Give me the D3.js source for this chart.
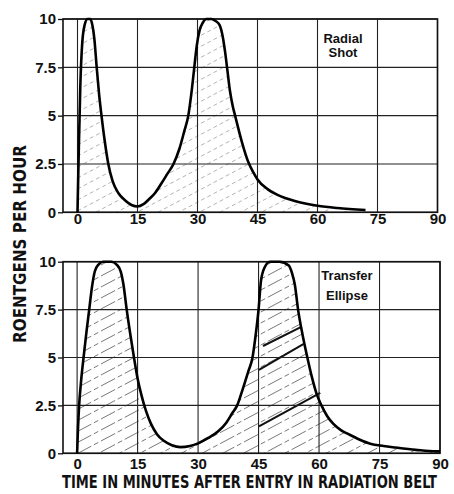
<!DOCTYPE html>
<html>
<head>
<meta charset="utf-8">
<script src="https://cdn.jsdelivr.net/npm/d3@7"></script>
<style>
  html, body { margin: 0; padding: 0; background: #fff; }
  svg { display: block; }
</style>
</head>
<body>
<svg id="chart" width="454" height="494"></svg>
<script>
// ---- data (minutes, roentgens per hour) ----
const xTicks = [0, 15, 30, 45, 60, 75, 90];
const yTicks = [0, 2.5, 5, 7.5, 10];
const yTickLabels = ["0", "2.5", "5", "7.5", "10"];

const radialTime = [0, 0.3, 0.7, 1.2, 1.8, 2.5, 3.2, 3.7, 4.2, 4.8, 5.4, 6, 6.8, 7.7, 8.8, 10.2, 12, 13.5, 15, 16.5, 18, 19.4, 21, 22.5, 24, 25.5, 26.7, 27.7, 28.5, 29.2, 29.8, 30.5, 31.3, 32.2, 33.5, 34.5, 35.5, 36.3, 36.9, 37.5, 38.1, 38.8, 39.4, 40.5, 41.5, 42.7, 44, 45, 47.5, 50, 55, 60, 65, 72];
const radialDose = [0, 3, 6.5, 8.8, 9.7, 10, 10, 9.7, 9, 7.5, 6.1, 5, 3.7, 2.5, 1.6, 1.0, 0.6, 0.38, 0.3, 0.42, 0.7, 1.0, 1.5, 2.0, 2.5, 3.3, 4.2, 5, 6.2, 7.5, 8.6, 9.4, 9.8, 10, 10, 9.9, 9.7, 9.1, 8.3, 7.3, 6.3, 5.5, 5.0, 4.1, 3.35, 2.6, 2.05, 1.7, 1.2, 0.9, 0.55, 0.34, 0.22, 0.12];

const transferTime = [0, 0.2, 0.5, 1.0, 1.6, 2.3, 3, 3.7, 4.4, 5.3, 6.5, 8.5, 9.8, 10.8, 11.5, 12.3, 13.2, 14.1, 15, 16, 17.1, 18.3, 19.8, 21.5, 23.5, 25.6, 28, 30, 32.5, 35, 37, 38.5, 39.7, 41, 42.5, 43.5, 44.3, 45, 45.6, 46.5, 47.8, 50.2, 52.5, 53.3, 54, 54.8, 55.9, 57.1, 58.2, 59.4, 60.6, 62, 63.5, 65.5, 67.3, 70, 72.7, 76, 79, 84, 89, 90];
const transferDose = [0, 1.2, 2.5, 3.8, 5, 6.3, 7.5, 8.7, 9.5, 9.85, 10, 10, 9.85, 9.5, 8.8, 7.5, 6.2, 5, 3.9, 3.0, 2.2, 1.55, 1.0, 0.65, 0.42, 0.32, 0.38, 0.52, 0.8, 1.15, 1.6, 2.1, 2.5, 3.3, 4.3, 5, 6.2, 7.5, 9, 9.7, 10, 10, 9.8, 9.4, 8.8, 7.5, 6.2, 5, 4.0, 3.1, 2.5, 1.95, 1.55, 1.2, 1.0, 0.72, 0.5, 0.38, 0.3, 0.18, 0.1, 0.1];

// heavier hatch strokes seen in the lower panel: [t1, v1, t2, v2]
const transferBoldHatch = [[46.1, 5.6, 55.6, 6.6], [45.1, 4.35, 56.1, 5.7], [45.1, 1.4, 60.3, 3.15]];

const panelLabels = [["Radial", "Shot"], ["Transfer", "Ellipse"]];
const xTitle = "TIME IN MINUTES AFTER ENTRY IN RADIATION BELT";
const yTitle = "ROENTGENS PER HOUR";

// ---- drawing ----
const svg = d3.select("#chart");
const defs = svg.append("defs");

const panels = [
  { time: radialTime, dose: radialDose, xDomain: [-3.625, 90], xRange: [63, 437.5], yRange: [212.3, 19],
    hatchColor: "#a0a0a0", hatchDash: "4,3", hatchWidth: 0.8,
    labelX: 343, labelY: [43, 57], tickLabelY: 219, bold: [] },
  { time: transferTime, dose: transferDose, xDomain: [-3.5, 90], xRange: [63, 440], yRange: [453.3, 261.7],
    hatchColor: "#555", hatchDash: "16,3,5,3", hatchWidth: 0.8,
    labelX: 347, labelY: [280, 300], tickLabelY: 464, bold: transferBoldHatch }
];

const slope = Math.tan(28 * Math.PI / 180);

panels.forEach((p, i) => {
  const x = d3.scaleLinear().domain(p.xDomain).range(p.xRange);
  const y = d3.scaleLinear().domain([0, 10]).range(p.yRange);
  const g = svg.append("g");
  const pts = p.time.map((t, k) => [t, p.dose[k]]);

  // clip = area under curve
  const area = d3.area().x(d => x(d[0])).y0(y(0)).y1(d => y(d[1])).curve(d3.curveMonotoneX);
  defs.append("clipPath").attr("id", "clip" + i).append("path").datum(pts).attr("d", area);

  // hatch lines (decorative), clipped to the area
  const x0 = x(0), x1 = x(90), ySpan = (x1 - x0) * slope;
  const offsets = d3.range(y(10) - 6, y(0) + ySpan + 11, 11);
  g.append("g").attr("clip-path", `url(#clip${i})`)
    .selectAll("line").data(offsets).join("line")
    .attr("x1", x0).attr("y1", d => d)
    .attr("x2", x1).attr("y2", d => d - ySpan)
    .attr("stroke", p.hatchColor).attr("stroke-width", p.hatchWidth)
    .attr("stroke-dasharray", p.hatchDash);

  // heavier hatch strokes
  g.selectAll("line.bold").data(p.bold).join("line")
    .attr("x1", d => x(d[0])).attr("y1", d => y(d[1]))
    .attr("x2", d => x(d[2])).attr("y2", d => y(d[3]))
    .attr("stroke", "#111").attr("stroke-width", 2);

  // grid
  g.selectAll("line.vg").data(xTicks).join("line")
    .attr("x1", d => x(d)).attr("x2", d => x(d))
    .attr("y1", y(0)).attr("y2", y(10))
    .attr("stroke", "#222").attr("stroke-width", 1.1);
  g.selectAll("line.hg").data(yTicks).join("line")
    .attr("x1", p.xRange[0]).attr("x2", x(90))
    .attr("y1", d => y(d)).attr("y2", d => y(d))
    .attr("stroke", "#222").attr("stroke-width", 1.1);

  // frame
  g.append("rect")
    .attr("x", p.xRange[0]).attr("y", y(10))
    .attr("width", x(90) - p.xRange[0]).attr("height", y(0) - y(10))
    .attr("fill", "none").attr("stroke", "#111").attr("stroke-width", 1.6);

  // y axis (outward ticks and labels)
  const yAxis = d3.axisLeft(y).tickValues(yTicks).tickSize(5).tickPadding(2)
    .tickFormat((d, k) => yTickLabels[k]);
  const ya = g.append("g").attr("transform", `translate(${p.xRange[0]},0)`).call(yAxis);
  ya.select(".domain").remove();
  ya.selectAll(".tick line").attr("stroke", "#111").attr("stroke-width", 1.3);
  ya.selectAll(".tick text")
    .attr("font-family", "'Liberation Sans', Arial, sans-serif")
    .attr("font-weight", "bold").attr("font-size", 15).attr("fill", "#111");

  // x axis labels
  const xAxis = d3.axisBottom(x).tickValues(xTicks).tickSize(0).tickPadding(0).tickFormat(d3.format("d"));
  const xa = g.append("g").attr("transform", `translate(0,${y(0)})`).call(xAxis);
  xa.select(".domain").remove();
  xa.selectAll(".tick text")
    .attr("y", p.tickLabelY - y(0)).attr("dy", "0.35em")
    .attr("font-family", "'Liberation Sans', Arial, sans-serif")
    .attr("font-weight", "bold").attr("font-size", 15).attr("fill", "#111");

  // curve
  const line = d3.line().x(d => x(d[0])).y(d => y(d[1])).curve(d3.curveMonotoneX);
  g.append("path").datum(pts).attr("d", line)
    .attr("fill", "none").attr("stroke", "#000").attr("stroke-width", 2.6)
    .attr("stroke-linejoin", "round");

  // panel label
  panelLabels[i].forEach((txt, k) => {
    g.append("text").attr("x", p.labelX).attr("y", p.labelY[k])
      .attr("text-anchor", "middle")
      .attr("font-family", "'Liberation Sans', Arial, sans-serif")
      .attr("font-weight", "bold").attr("font-size", 13).attr("fill", "#111")
      .text(txt);
  });
});

// axis titles (condensed by a horizontal scale so the text fits its span)
function condensedText(parent, str, size, targetWidth) {
  const t = parent.append("text")
    .attr("font-family", "'Liberation Sans Narrow', 'DejaVu Sans Condensed', sans-serif")
    .attr("font-weight", "bold").attr("font-size", size).attr("fill", "#111")
    .attr("text-anchor", "middle")
    .text(str);
  const w = t.node().getComputedTextLength();
  t.attr("transform", `scale(${targetWidth / w},1)`);
  return t;
}
const xt = svg.append("g").attr("transform", "translate(249.5,488)");
condensedText(xt, xTitle, 18, 375);

const yt = svg.append("g").attr("transform", "translate(26,244) rotate(-90)");
condensedText(yt, yTitle, 17, 198);
</script>
</body>
</html>
